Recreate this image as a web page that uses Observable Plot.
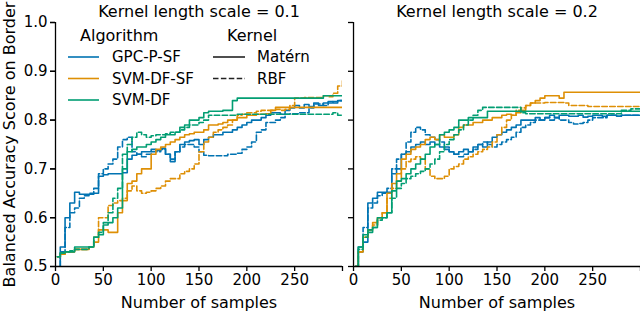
<!DOCTYPE html>
<html><head><meta charset="utf-8">
<script src="https://cdn.jsdelivr.net/npm/d3@7"></script>
<script src="https://cdn.jsdelivr.net/npm/@observablehq/plot@0.6"></script>
<style>
html,body{margin:0;padding:0;background:#fff}
#wrap{position:relative;width:640px;height:312px;overflow:hidden}
#wrap svg{font-family:"DejaVu Sans",sans-serif}
#legend{position:absolute;left:0;top:0;pointer-events:none}
</style>
</head><body><div id="wrap"></div>
<script>
// ---- data ----
const lengthScales = [0.1, 0.2];
const algorithms = ["GPC-P-SF", "SVM-DF-SF", "SVM-DF"];
const kernels = ["Matérn", "RBF"];
const algColors = ["#0173b2", "#de8f05", "#029e73"];
const xTicks = [0, 50, 100, 150, 200, 250, 300];
const yTicks = [0.5, 0.6, 0.7, 0.8, 0.9, 1.0];
const samples = [2,5,10,15,20,25,30,35,40,45,50,55,60,65,70,75,80,85,90,95,
  100,105,110,115,120,125,130,135,140,145,150,155,160,165,170,175,180,185,190,195,
  200,205,210,215,220,225,230,235,240,245,250,255,260,265,270,275,280,285,290,295,300];

// length scale 0.1
const ls1_gpc_matern = [0.49,0.54,0.60,0.63,0.652,0.648,0.648,0.648,0.65,0.685,0.688,0.69,0.69,0.69,0.692,0.72,0.728,0.73,0.735,0.735,
  0.74,0.738,0.742,0.73,0.715,0.735,0.75,0.755,0.758,0.76,0.75,0.76,0.765,0.77,0.77,0.775,0.775,0.78,0.785,0.79,
  0.795,0.80,0.80,0.805,0.81,0.815,0.815,0.812,0.82,0.825,0.83,0.825,0.832,0.828,0.835,0.83,0.835,0.838,0.835,0.84,0.84];
const ls1_gpc_rbf = [0.49,0.53,0.58,0.61,0.62,0.64,0.645,0.65,0.66,0.69,0.70,0.71,0.72,0.745,0.76,0.765,0.735,0.73,0.725,0.73,
  0.735,0.735,0.74,0.73,0.72,0.735,0.745,0.75,0.75,0.745,0.735,0.728,0.727,0.727,0.727,0.727,0.73,0.73,0.732,0.74,
  0.745,0.755,0.775,0.78,0.795,0.795,0.80,0.805,0.812,0.813,0.813,0.815,0.815,0.825,0.833,0.833,0.83,0.835,0.838,0.84,0.84];
const ls1_svmsf_matern = [0.52,0.525,0.53,0.53,0.535,0.535,0.535,0.54,0.55,0.575,0.575,0.57,0.57,0.61,0.635,0.67,0.675,0.69,0.70,0.70,
  0.73,0.74,0.745,0.75,0.755,0.76,0.765,0.77,0.772,0.775,0.775,0.78,0.79,0.79,0.792,0.795,0.80,0.80,0.805,0.805,
  0.81,0.81,0.812,0.812,0.813,0.82,0.826,0.826,0.826,0.826,0.826,0.826,0.826,0.826,0.826,0.826,0.826,0.826,0.826,0.826,0.826];
const ls1_svmsf_rbf = [0.52,0.525,0.53,0.53,0.535,0.535,0.535,0.54,0.56,0.60,0.60,0.625,0.63,0.635,0.64,0.655,0.665,0.655,0.65,0.652,
  0.655,0.66,0.665,0.675,0.68,0.68,0.69,0.695,0.70,0.71,0.735,0.755,0.765,0.775,0.78,0.785,0.79,0.80,0.81,0.812,
  0.815,0.815,0.818,0.82,0.82,0.82,0.822,0.82,0.822,0.83,0.845,0.845,0.846,0.846,0.846,0.846,0.85,0.848,0.855,0.87,0.88];
const ls1_svm_matern = [0.52,0.528,0.53,0.53,0.54,0.54,0.54,0.54,0.56,0.565,0.585,0.59,0.60,0.62,0.70,0.735,0.74,0.745,0.745,0.75,
  0.755,0.76,0.765,0.77,0.77,0.775,0.785,0.79,0.80,0.80,0.805,0.815,0.818,0.818,0.818,0.82,0.82,0.84,0.845,0.845,
  0.845,0.845,0.845,0.845,0.845,0.845,0.845,0.845,0.845,0.845,0.845,0.845,0.845,0.845,0.845,0.845,0.85,0.85,0.85,0.85,0.85];
const ls1_svm_rbf = [0.52,0.528,0.53,0.532,0.535,0.535,0.535,0.54,0.56,0.57,0.59,0.61,0.64,0.66,0.73,0.75,0.765,0.775,0.77,0.765,
  0.768,0.77,0.77,0.772,0.775,0.775,0.78,0.785,0.79,0.79,0.795,0.80,0.81,0.81,0.81,0.81,0.81,0.81,0.812,0.812,
  0.812,0.812,0.812,0.812,0.812,0.812,0.812,0.812,0.812,0.812,0.812,0.812,0.812,0.812,0.812,0.812,0.812,0.812,0.815,0.81,0.81];

// length scale 0.2
const ls2_gpc_matern = [0.50,0.54,0.55,0.63,0.64,0.652,0.652,0.652,0.69,0.70,0.73,0.735,0.745,0.75,0.755,0.75,0.755,0.75,0.745,0.74,
  0.735,0.73,0.735,0.74,0.735,0.745,0.75,0.745,0.755,0.765,0.77,0.775,0.78,0.785,0.79,0.80,0.80,0.80,0.805,0.80,
  0.805,0.81,0.805,0.81,0.81,0.808,0.808,0.81,0.806,0.808,0.81,0.81,0.808,0.81,0.81,0.808,0.81,0.81,0.81,0.81,0.81];
const ls2_gpc_rbf = [0.49,0.53,0.58,0.62,0.63,0.645,0.65,0.66,0.70,0.72,0.73,0.755,0.775,0.785,0.78,0.77,0.765,0.76,0.755,0.745,
  0.735,0.73,0.725,0.73,0.735,0.74,0.75,0.755,0.75,0.745,0.75,0.755,0.76,0.765,0.775,0.785,0.79,0.795,0.80,0.80,
  0.805,0.80,0.805,0.80,0.80,0.795,0.792,0.793,0.795,0.80,0.805,0.805,0.805,0.81,0.81,0.808,0.81,0.81,0.81,0.81,0.81];
const ls2_svmsf_matern = [0.50,0.53,0.56,0.575,0.59,0.60,0.61,0.65,0.67,0.69,0.72,0.73,0.74,0.745,0.75,0.76,0.765,0.76,0.77,0.765,
  0.765,0.77,0.785,0.79,0.79,0.795,0.795,0.80,0.80,0.805,0.805,0.81,0.812,0.81,0.815,0.82,0.83,0.835,0.84,0.845,
  0.85,0.85,0.85,0.845,0.857,0.857,0.857,0.857,0.857,0.857,0.857,0.857,0.857,0.857,0.857,0.857,0.857,0.857,0.857,0.857,0.857];
const ls2_svmsf_rbf = [0.50,0.53,0.56,0.575,0.585,0.60,0.61,0.64,0.66,0.675,0.70,0.715,0.72,0.725,0.72,0.70,0.685,0.68,0.68,0.685,
  0.70,0.705,0.71,0.72,0.725,0.73,0.735,0.74,0.745,0.755,0.77,0.785,0.80,0.81,0.82,0.825,0.83,0.835,0.835,0.835,
  0.836,0.836,0.836,0.836,0.835,0.83,0.83,0.83,0.83,0.828,0.828,0.828,0.828,0.828,0.828,0.828,0.828,0.828,0.828,0.828,0.828];
const ls2_svm_matern = [0.50,0.54,0.565,0.575,0.58,0.60,0.60,0.61,0.655,0.675,0.68,0.69,0.70,0.71,0.72,0.73,0.745,0.75,0.77,0.775,
  0.78,0.785,0.80,0.80,0.805,0.805,0.805,0.805,0.818,0.818,0.818,0.818,0.818,0.818,0.818,0.818,0.818,0.818,0.818,0.818,
  0.818,0.818,0.818,0.818,0.818,0.818,0.818,0.818,0.818,0.818,0.818,0.818,0.818,0.818,0.818,0.818,0.818,0.818,0.818,0.818,0.818];
const ls2_svm_rbf = [0.50,0.535,0.56,0.57,0.58,0.595,0.60,0.61,0.64,0.66,0.67,0.68,0.685,0.69,0.695,0.70,0.71,0.72,0.735,0.75,
  0.76,0.77,0.78,0.79,0.80,0.81,0.82,0.826,0.826,0.826,0.826,0.826,0.826,0.826,0.826,0.815,0.813,0.813,0.813,0.813,
  0.813,0.813,0.813,0.813,0.813,0.813,0.813,0.813,0.813,0.813,0.813,0.813,0.813,0.813,0.813,0.813,0.82,0.82,0.823,0.823,0.823];

const seriesList = [
  [0.1, "GPC-P-SF", "Matérn", ls1_gpc_matern], [0.1, "GPC-P-SF", "RBF", ls1_gpc_rbf],
  [0.1, "SVM-DF-SF", "Matérn", ls1_svmsf_matern], [0.1, "SVM-DF-SF", "RBF", ls1_svmsf_rbf],
  [0.1, "SVM-DF", "Matérn", ls1_svm_matern], [0.1, "SVM-DF", "RBF", ls1_svm_rbf],
  [0.2, "GPC-P-SF", "Matérn", ls2_gpc_matern], [0.2, "GPC-P-SF", "RBF", ls2_gpc_rbf],
  [0.2, "SVM-DF-SF", "Matérn", ls2_svmsf_matern], [0.2, "SVM-DF-SF", "RBF", ls2_svmsf_rbf],
  [0.2, "SVM-DF", "Matérn", ls2_svm_matern], [0.2, "SVM-DF", "RBF", ls2_svm_rbf]
];

const DASH = "5.5,2.4";
const lineMarks = [];
for (const alg of algorithms) for (const ker of kernels) for (const sc of lengthScales) {
  const s = seriesList.find(d => d[0] === sc && d[1] === alg && d[2] === ker);
  const rows = s[3].map((v, i) => ({scale: sc, algorithm: alg, kernel: ker, n: samples[i], acc: v}));
  lineMarks.push(Plot.lineY(rows, {
    x: "n", y: "acc", fx: "scale", stroke: "algorithm", strokeWidth: 1.6,
    strokeDasharray: ker === "RBF" ? DASH : null, curve: "step-after", clip: true
  }));
}

const chart = Plot.plot({
  width: 640, height: 312,
  marginLeft: 55, marginRight: 0, marginTop: 22, marginBottom: 46,
  style: {fontFamily: "DejaVu Sans", fontSize: "15px", background: "white", color: "black"},
  fx: {domain: lengthScales, paddingInner: 0.037, paddingOuter: 0, round: false, axis: null},
  x: {domain: [0, 300]},
  y: {domain: [0.5, 1.0]},
  color: {domain: algorithms, range: algColors},
  marks: [
    ...lineMarks,
    Plot.ruleX([0], {stroke: "black", strokeWidth: 1.3}),
    Plot.ruleY([0.5], {stroke: "black", strokeWidth: 1.3}),
    Plot.axisX({ticks: xTicks, tickFormat: d => d === 300 ? "" : String(d), tickSize: 5, tickPadding: 3, label: null, strokeWidth: 1.3, fontSize: 15}),
    Plot.axisY({ticks: yTicks, tickFormat: d3.format(".1f"), tickSize: 5, tickPadding: 3, label: null, strokeWidth: 1.3, fontSize: 15}),
    Plot.axisY({ticks: yTicks, tickFormat: () => "", tickSize: 5, facetAnchor: null, label: null, strokeWidth: 1.3}),
    Plot.text(lengthScales, {fx: d => d, text: d => `Kernel length scale = ${d}`, frameAnchor: "top", dy: -11, fontSize: 16, lineAnchor: "middle"}),
    Plot.text(["Number of samples"], {text: d => d, frameAnchor: "bottom", dy: 36, fontSize: 16, lineAnchor: "middle"}),
    Plot.text([0.1], {fx: d => d, text: () => "Balanced Accuracy Score on Border", frameAnchor: "left", textAnchor: "middle", rotate: -90, dx: -46, fontSize: 16, lineAnchor: "middle"})
  ]
});
const wrap = document.getElementById("wrap");
wrap.appendChild(chart);

// ---- legend overlay ----
const lg = d3.select(wrap).append("svg").attr("id", "legend").attr("width", 640).attr("height", 312)
  .style("font-family", "DejaVu Sans").style("font-size", "15px");
lg.append("text").attr("x", 80).attr("y", 35).attr("dy", "0.35em").style("font-size", "16px").text("Algorithm");
algorithms.forEach((a, i) => {
  const y = 57 + i * 21.5;
  lg.append("line").attr("x1", 68).attr("x2", 99).attr("y1", y).attr("y2", y).attr("stroke", algColors[i]).attr("stroke-width", 1.6);
  lg.append("text").attr("x", 112).attr("y", y).attr("dy", "0.35em").text(a);
});
lg.append("text").attr("x", 227).attr("y", 35).attr("dy", "0.35em").style("font-size", "16px").text("Kernel");
kernels.forEach((k, i) => {
  const y = 57 + i * 21.5;
  lg.append("line").attr("x1", 213).attr("x2", 245).attr("y1", y).attr("y2", y).attr("stroke", "#222").attr("stroke-width", 1.6)
    .attr("stroke-dasharray", k === "RBF" ? DASH : null);
  lg.append("text").attr("x", 257).attr("y", y).attr("dy", "0.35em").text(k);
});
</script>
</body></html>
